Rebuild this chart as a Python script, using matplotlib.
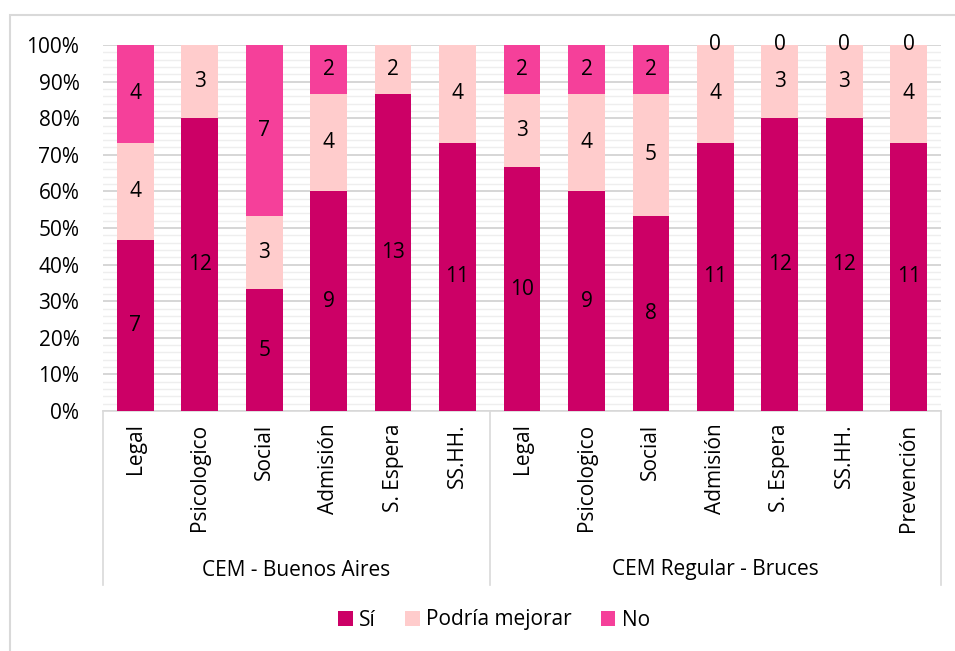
import numpy as np
import matplotlib.pyplot as plt
import matplotlib.transforms as mtransforms
from matplotlib.patches import Rectangle

plt.rcParams['font.family'] = ['Open Sans', 'DejaVu Sans']

# Category data
groups = ['CEM - Buenos Aires', 'CEM Regular - Bruces']
cats_ba = ['Legal', 'Psicologico', 'Social', 'Admisión', 'S. Espera', 'SS.HH.']
cats_br = ['Legal', 'Psicologico', 'Social', 'Admisión', 'S. Espera', 'SS.HH.', 'Prevención']

# Counts per answer (None = empty cell, not labelled)
si_ba = [7, 12, 5, 9, 13, 11]
pm_ba = [4, 3, 3, 4, 2, 4]
no_ba = [4, None, 7, 2, None, None]

si_br = [10, 9, 8, 11, 12, 12, 11]
pm_br = [3, 4, 5, 4, 3, 3, 4]
no_br = [2, 2, 2, 0, 0, 0, 0]

series_names = ['Sí', 'Podría mejorar', 'No']
colors = ['#CC0066', '#FFCCCC', '#F5409A']

cats = cats_ba + cats_br
si = si_ba + si_br
pm = pm_ba + pm_br
no = no_ba + no_br

vals = np.array([[a, b, c if c is not None else 0] for a, b, c in zip(si, pm, no)], dtype=float)
totals = vals.sum(axis=1)
pct = vals / totals[:, None] * 100

fs = 15
fig = plt.figure(figsize=(9.55, 6.51), dpi=100)
ax = fig.add_axes([103 / 955, 1 - 411 / 651, 838 / 955, 366 / 651])

x = np.arange(len(cats))
bottom = np.zeros(len(cats))
for k in range(3):
    ax.bar(x, pct[:, k], bottom=bottom, width=0.57, color=colors[k],
           label=series_names[k], zorder=3)
    raw = [si, pm, no][k]
    for i in range(len(cats)):
        if raw[i] is None:
            continue
        ax.text(x[i], bottom[i] + pct[i, k] / 2, str(raw[i]), ha='center', va='center',
                fontsize=fs, color='black', zorder=4)
    bottom += pct[:, k]

ax.set_xlim(-0.5, len(cats) - 0.5)
ax.set_ylim(0, 100)
ax.set_yticks(np.arange(0, 101, 10))
ax.set_yticklabels([f'{v}%' for v in range(0, 101, 10)], fontsize=fs)
ax.set_yticks(np.arange(0, 101, 2), minor=True)
ax.grid(axis='y', which='major', color='#D0D0D0', linewidth=1.2, zorder=0)
ax.grid(axis='y', which='minor', color='#EEEEEE', linewidth=1.0, zorder=0)
ax.tick_params(axis='y', which='both', length=0, pad=17)
ax.tick_params(axis='x', length=0, pad=9)
ax.set_xticks(x)
ax.set_xticklabels(cats, rotation=90, fontsize=fs, va='top')
for s in ax.spines.values():
    s.set_visible(False)

# Multi-level category axis
trans = mtransforms.blended_transform_factory(ax.transData, ax.transAxes)
axis_drop = (585 - 411) / 366
ax.plot([-0.5, len(cats) - 0.5], [0, 0], transform=trans, color='#D9D9D9',
        lw=1.2, clip_on=False)
for sep in [-0.5, len(cats_ba) - 0.5, len(cats) - 0.5]:
    ax.plot([sep, sep], [0, -axis_drop], transform=trans, color='#D9D9D9',
            lw=1.2, clip_on=False)
group_y = -(570 - 411) / 366
ax.text((len(cats_ba) - 1) / 2, group_y, groups[0], transform=trans,
        ha='center', va='center', fontsize=fs)
ax.text(len(cats_ba) + (len(cats_br) - 1) / 2, group_y, groups[1], transform=trans,
        ha='center', va='center', fontsize=fs)

# Chart border
fig.patches.append(Rectangle((10 / 955, -0.1), 1.2, 1 - 15 / 651 + 0.1,
                             transform=fig.transFigure, fill=False,
                             edgecolor='#D9D9D9', lw=1.5))

handles, labels = ax.get_legend_handles_labels()
fig.legend(handles, labels, loc='center', bbox_to_anchor=(494 / 955, 1 - 620 / 651),
           ncol=3, frameon=False, fontsize=fs, handlelength=0.7, handleheight=0.7,
           handletextpad=0.3, columnspacing=1.4)

fig.savefig('out.png', dpi=100)
